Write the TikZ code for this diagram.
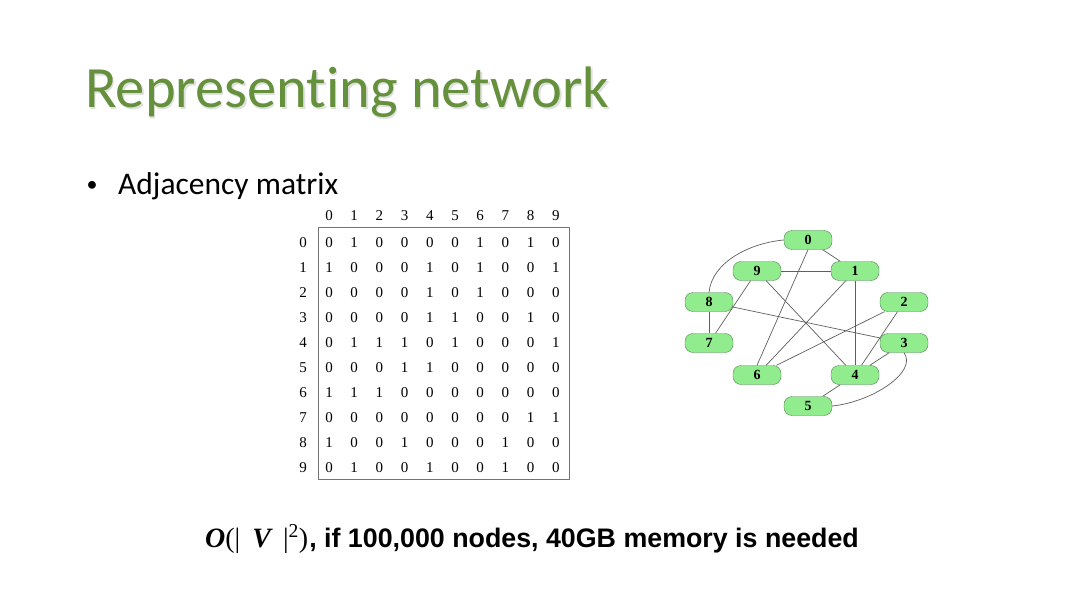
\documentclass[tikz,border=0pt]{standalone}
\usepackage{fontspec}
\setmainfont{Liberation Serif}
\newfontfamily\slidefont[Ligatures={NoCommon}]{Carlito}
\newfontfamily\arialfont{Liberation Sans}

\definecolor{titlegreen}{RGB}{102,145,60}
\definecolor{vertfill}{RGB}{144,236,140}
\definecolor{vertline}{RGB}{88,130,88}
\definecolor{edgegray}{RGB}{95,95,95}

\begin{document}
\begin{tikzpicture}[
        x=1pt, y=-1pt,
        cell/.style={inner sep=0pt, font=\fontsize{15}{15}\selectfont},
        vert/.style={
            draw=vertline,
            fill=vertfill,
            rounded corners=8pt,
            minimum width=48pt,
            minimum height=19pt,
            inner sep=0pt,
            font=\fontsize{14}{14}\selectfont\bfseries,
        },
        edge/.style={draw=edgegray, line width=0.7pt},
    ]
    \useasboundingbox (0,0) rectangle (1080,607);
    \fill[white] (0,0) rectangle (1080,607);

    % title and bullet
    \node[anchor=base west, inner sep=0pt, text=black!12, font=\slidefont\fontsize{58.5}{60}\selectfont]
        (title-shadow) at (86.5,109.5) {Representing network};
    \node[anchor=base west, inner sep=0pt, text=titlegreen, font=\slidefont\fontsize{58.5}{60}\selectfont]
        (title) at (85,108) {Representing network};
    \node[inner sep=0pt, font=\slidefont\fontsize{22}{22}\selectfont] (bullet) at (92,186) {•};
    \node[anchor=base west, inner sep=0pt, font=\slidefont\fontsize{31.5}{32}\selectfont]
        (item) at (118,194.5) {Adjacency matrix};

    % adjacency matrix
    \node[draw=black!55, line width=1pt, minimum width=251pt, minimum height=251pt, inner sep=0pt]
        (grid) at (443.5,353.5) {};
    \foreach \c in {0,...,9} {
        \node[cell] (col-\c) at ({329+25.2*\c},216) {\c};
        \node[cell] (row-\c) at (303,{243+25*\c}) {\c};
    }
    \foreach \entries [count=\r from 0] in {
            {0,1,0,0,0,0,1,0,1,0},
            {1,0,0,0,1,0,1,0,0,1},
            {0,0,0,0,1,0,1,0,0,0},
            {0,0,0,0,1,1,0,0,1,0},
            {0,1,1,1,0,1,0,0,0,1},
            {0,0,0,1,1,0,0,0,0,0},
            {1,1,1,0,0,0,0,0,0,0},
            {0,0,0,0,0,0,0,0,1,1},
            {1,0,0,1,0,0,0,1,0,0},
            {0,1,0,0,1,0,0,1,0,0}} {
        \foreach \val [count=\c from 0] in \entries {
            \node[cell] (m-\r-\c) at ({329+25.2*\c},{243+25*\r}) {\val};
        }
    }

    % graph
    \node[vert] (v0) at (808,240) {0};
    \node[vert] (v9) at (757,271) {9};
    \node[vert] (v1) at (855,271) {1};
    \node[vert] (v8) at (709,302) {8};
    \node[vert] (v2) at (904,302) {2};
    \node[vert] (v7) at (709,343) {7};
    \node[vert] (v3) at (904,343) {3};
    \node[vert] (v6) at (757,375) {6};
    \node[vert] (v4) at (855,375) {4};
    \node[vert] (v5) at (808,406) {5};

    \draw[edge] (v0) -- (v1);
    \draw[edge] (v0.south) -- (v6.north);
    \draw[edge] (v0.west) .. controls (750,243) and (712,262) .. (v8.north);
    \draw[edge] (v9) -- (v1);
    \draw[edge] (v9) -- (v4);
    \draw[edge] (v9) -- (v7);
    \draw[edge] (v1) -- (v4);
    \draw[edge] (v1) -- (v6);
    \draw[edge] (v8) -- (v7);
    \draw[edge] (v8) -- (v3);
    \draw[edge] (v2) -- (v6);
    \draw[edge] (v2) -- (v4);
    \draw[edge] (v3) -- (v4);
    \draw[edge] (v4) -- (v5);
    \draw[edge] (v3.south) .. controls (918,372) and (872,402) .. (v5.east);

    % cost line
    \node[anchor=base west, inner sep=0pt, font=\fontsize{28}{28}\selectfont] (cost) at (205,547)
        {{\bfseries\itshape O}(|\hspace{12pt}{\bfseries\itshape V}\hspace{12pt}|\textsuperscript{2})\hspace{1pt}{\arialfont\bfseries\fontsize{26.8}{28}\selectfont, if 100,000 nodes, 40GB memory is needed}};
\end{tikzpicture}
\end{document}
